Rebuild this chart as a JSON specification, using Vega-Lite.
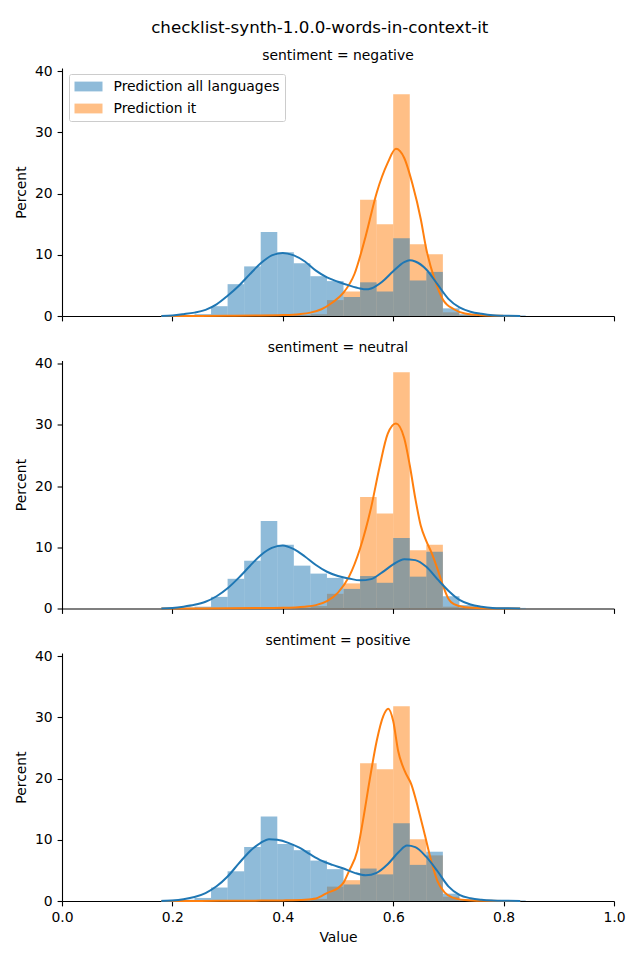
{
  "$schema": "https://vega.github.io/schema/vega-lite/v6.json",
  "padding": {"left": 14, "top": 19, "right": 10, "bottom": 10},
  "title": {"text": "checklist-synth-1.0.0-words-in-context-it", "fontSize": 16.7, "fontWeight": "normal", "font": "DejaVu Sans", "color": "black", "anchor": "middle", "offset": 12},
  "datasets": {
    "hist": [
      {"sentiment": "negative", "series": "Prediction it", "start": 0.36, "end": 0.39, "percent": 0.05},
      {"sentiment": "negative", "series": "Prediction it", "start": 0.39, "end": 0.42, "percent": 0.1},
      {"sentiment": "negative", "series": "Prediction it", "start": 0.42, "end": 0.45, "percent": 0.15},
      {"sentiment": "negative", "series": "Prediction it", "start": 0.45, "end": 0.48, "percent": 0.3},
      {"sentiment": "negative", "series": "Prediction it", "start": 0.48, "end": 0.51, "percent": 2.6},
      {"sentiment": "negative", "series": "Prediction it", "start": 0.51, "end": 0.54, "percent": 4.0},
      {"sentiment": "negative", "series": "Prediction it", "start": 0.54, "end": 0.57, "percent": 19.0},
      {"sentiment": "negative", "series": "Prediction it", "start": 0.57, "end": 0.60, "percent": 15.0},
      {"sentiment": "negative", "series": "Prediction it", "start": 0.60, "end": 0.63, "percent": 36.2},
      {"sentiment": "negative", "series": "Prediction it", "start": 0.63, "end": 0.66, "percent": 11.7},
      {"sentiment": "negative", "series": "Prediction it", "start": 0.66, "end": 0.69, "percent": 10.1},
      {"sentiment": "negative", "series": "Prediction it", "start": 0.69, "end": 0.72, "percent": 0.6},
      {"sentiment": "negative", "series": "Prediction it", "start": 0.72, "end": 0.75, "percent": 0.15},
      {"sentiment": "neutral", "series": "Prediction it", "start": 0.39, "end": 0.42, "percent": 0.1},
      {"sentiment": "neutral", "series": "Prediction it", "start": 0.42, "end": 0.45, "percent": 0.15},
      {"sentiment": "neutral", "series": "Prediction it", "start": 0.45, "end": 0.48, "percent": 0.4},
      {"sentiment": "neutral", "series": "Prediction it", "start": 0.48, "end": 0.51, "percent": 2.4},
      {"sentiment": "neutral", "series": "Prediction it", "start": 0.51, "end": 0.54, "percent": 4.1},
      {"sentiment": "neutral", "series": "Prediction it", "start": 0.54, "end": 0.57, "percent": 18.2},
      {"sentiment": "neutral", "series": "Prediction it", "start": 0.57, "end": 0.60, "percent": 15.5},
      {"sentiment": "neutral", "series": "Prediction it", "start": 0.60, "end": 0.63, "percent": 38.6},
      {"sentiment": "neutral", "series": "Prediction it", "start": 0.63, "end": 0.66, "percent": 9.5},
      {"sentiment": "neutral", "series": "Prediction it", "start": 0.66, "end": 0.69, "percent": 10.4},
      {"sentiment": "neutral", "series": "Prediction it", "start": 0.69, "end": 0.72, "percent": 0.3},
      {"sentiment": "neutral", "series": "Prediction it", "start": 0.72, "end": 0.75, "percent": 0.1},
      {"sentiment": "positive", "series": "Prediction it", "start": 0.39, "end": 0.42, "percent": 0.1},
      {"sentiment": "positive", "series": "Prediction it", "start": 0.42, "end": 0.45, "percent": 0.15},
      {"sentiment": "positive", "series": "Prediction it", "start": 0.45, "end": 0.48, "percent": 0.35},
      {"sentiment": "positive", "series": "Prediction it", "start": 0.48, "end": 0.51, "percent": 2.35},
      {"sentiment": "positive", "series": "Prediction it", "start": 0.51, "end": 0.54, "percent": 3.4},
      {"sentiment": "positive", "series": "Prediction it", "start": 0.54, "end": 0.57, "percent": 22.5},
      {"sentiment": "positive", "series": "Prediction it", "start": 0.57, "end": 0.60, "percent": 21.5},
      {"sentiment": "positive", "series": "Prediction it", "start": 0.60, "end": 0.63, "percent": 31.8},
      {"sentiment": "positive", "series": "Prediction it", "start": 0.63, "end": 0.66, "percent": 10.1},
      {"sentiment": "positive", "series": "Prediction it", "start": 0.66, "end": 0.69, "percent": 7.45},
      {"sentiment": "positive", "series": "Prediction it", "start": 0.69, "end": 0.72, "percent": 0.7},
      {"sentiment": "positive", "series": "Prediction it", "start": 0.72, "end": 0.75, "percent": 0.15},

      {"sentiment": "negative", "series": "Prediction all languages", "start": 0.18, "end": 0.21, "percent": 0.15},
      {"sentiment": "negative", "series": "Prediction all languages", "start": 0.21, "end": 0.24, "percent": 0.15},
      {"sentiment": "negative", "series": "Prediction all languages", "start": 0.24, "end": 0.27, "percent": 0.3},
      {"sentiment": "negative", "series": "Prediction all languages", "start": 0.27, "end": 0.30, "percent": 1.6},
      {"sentiment": "negative", "series": "Prediction all languages", "start": 0.30, "end": 0.33, "percent": 5.2},
      {"sentiment": "negative", "series": "Prediction all languages", "start": 0.33, "end": 0.36, "percent": 8.1},
      {"sentiment": "negative", "series": "Prediction all languages", "start": 0.36, "end": 0.39, "percent": 13.7},
      {"sentiment": "negative", "series": "Prediction all languages", "start": 0.39, "end": 0.42, "percent": 10.4},
      {"sentiment": "negative", "series": "Prediction all languages", "start": 0.42, "end": 0.45, "percent": 8.6},
      {"sentiment": "negative", "series": "Prediction all languages", "start": 0.45, "end": 0.48, "percent": 6.5},
      {"sentiment": "negative", "series": "Prediction all languages", "start": 0.48, "end": 0.51, "percent": 5.7},
      {"sentiment": "negative", "series": "Prediction all languages", "start": 0.51, "end": 0.54, "percent": 3.1},
      {"sentiment": "negative", "series": "Prediction all languages", "start": 0.54, "end": 0.57, "percent": 5.5},
      {"sentiment": "negative", "series": "Prediction all languages", "start": 0.57, "end": 0.60, "percent": 4.0},
      {"sentiment": "negative", "series": "Prediction all languages", "start": 0.60, "end": 0.63, "percent": 12.7},
      {"sentiment": "negative", "series": "Prediction all languages", "start": 0.63, "end": 0.66, "percent": 5.8},
      {"sentiment": "negative", "series": "Prediction all languages", "start": 0.66, "end": 0.69, "percent": 7.2},
      {"sentiment": "negative", "series": "Prediction all languages", "start": 0.69, "end": 0.72, "percent": 1.25},
      {"sentiment": "negative", "series": "Prediction all languages", "start": 0.72, "end": 0.75, "percent": 0.3},
      {"sentiment": "negative", "series": "Prediction all languages", "start": 0.75, "end": 0.78, "percent": 0.2},
      {"sentiment": "negative", "series": "Prediction all languages", "start": 0.78, "end": 0.81, "percent": 0.15},
      {"sentiment": "negative", "series": "Prediction all languages", "start": 0.81, "end": 0.84, "percent": 0.1},
      {"sentiment": "neutral", "series": "Prediction all languages", "start": 0.18, "end": 0.21, "percent": 0.1},
      {"sentiment": "neutral", "series": "Prediction all languages", "start": 0.21, "end": 0.24, "percent": 0.15},
      {"sentiment": "neutral", "series": "Prediction all languages", "start": 0.24, "end": 0.27, "percent": 0.3},
      {"sentiment": "neutral", "series": "Prediction all languages", "start": 0.27, "end": 0.30, "percent": 1.9},
      {"sentiment": "neutral", "series": "Prediction all languages", "start": 0.30, "end": 0.33, "percent": 4.85},
      {"sentiment": "neutral", "series": "Prediction all languages", "start": 0.33, "end": 0.36, "percent": 7.8},
      {"sentiment": "neutral", "series": "Prediction all languages", "start": 0.36, "end": 0.39, "percent": 14.3},
      {"sentiment": "neutral", "series": "Prediction all languages", "start": 0.39, "end": 0.42, "percent": 10.4},
      {"sentiment": "neutral", "series": "Prediction all languages", "start": 0.42, "end": 0.45, "percent": 7.0},
      {"sentiment": "neutral", "series": "Prediction all languages", "start": 0.45, "end": 0.48, "percent": 5.7},
      {"sentiment": "neutral", "series": "Prediction all languages", "start": 0.48, "end": 0.51, "percent": 5.0},
      {"sentiment": "neutral", "series": "Prediction all languages", "start": 0.51, "end": 0.54, "percent": 3.2},
      {"sentiment": "neutral", "series": "Prediction all languages", "start": 0.54, "end": 0.57, "percent": 5.3},
      {"sentiment": "neutral", "series": "Prediction all languages", "start": 0.57, "end": 0.60, "percent": 4.2},
      {"sentiment": "neutral", "series": "Prediction all languages", "start": 0.60, "end": 0.63, "percent": 11.5},
      {"sentiment": "neutral", "series": "Prediction all languages", "start": 0.63, "end": 0.66, "percent": 5.2},
      {"sentiment": "neutral", "series": "Prediction all languages", "start": 0.66, "end": 0.69, "percent": 9.25},
      {"sentiment": "neutral", "series": "Prediction all languages", "start": 0.69, "end": 0.72, "percent": 2.0},
      {"sentiment": "neutral", "series": "Prediction all languages", "start": 0.72, "end": 0.75, "percent": 0.55},
      {"sentiment": "neutral", "series": "Prediction all languages", "start": 0.75, "end": 0.78, "percent": 0.2},
      {"sentiment": "neutral", "series": "Prediction all languages", "start": 0.78, "end": 0.81, "percent": 0.1},
      {"sentiment": "neutral", "series": "Prediction all languages", "start": 0.81, "end": 0.84, "percent": 0.1},
      {"sentiment": "positive", "series": "Prediction all languages", "start": 0.18, "end": 0.21, "percent": 0.2},
      {"sentiment": "positive", "series": "Prediction all languages", "start": 0.21, "end": 0.24, "percent": 0.2},
      {"sentiment": "positive", "series": "Prediction all languages", "start": 0.24, "end": 0.27, "percent": 0.5},
      {"sentiment": "positive", "series": "Prediction all languages", "start": 0.27, "end": 0.30, "percent": 2.2},
      {"sentiment": "positive", "series": "Prediction all languages", "start": 0.30, "end": 0.33, "percent": 4.85},
      {"sentiment": "positive", "series": "Prediction all languages", "start": 0.33, "end": 0.36, "percent": 8.8},
      {"sentiment": "positive", "series": "Prediction all languages", "start": 0.36, "end": 0.39, "percent": 13.8},
      {"sentiment": "positive", "series": "Prediction all languages", "start": 0.39, "end": 0.42, "percent": 9.3},
      {"sentiment": "positive", "series": "Prediction all languages", "start": 0.42, "end": 0.45, "percent": 8.3},
      {"sentiment": "positive", "series": "Prediction all languages", "start": 0.45, "end": 0.48, "percent": 6.6},
      {"sentiment": "positive", "series": "Prediction all languages", "start": 0.48, "end": 0.51, "percent": 5.2},
      {"sentiment": "positive", "series": "Prediction all languages", "start": 0.51, "end": 0.54, "percent": 2.7},
      {"sentiment": "positive", "series": "Prediction all languages", "start": 0.54, "end": 0.57, "percent": 5.3},
      {"sentiment": "positive", "series": "Prediction all languages", "start": 0.57, "end": 0.60, "percent": 4.35},
      {"sentiment": "positive", "series": "Prediction all languages", "start": 0.60, "end": 0.63, "percent": 12.7},
      {"sentiment": "positive", "series": "Prediction all languages", "start": 0.63, "end": 0.66, "percent": 5.9},
      {"sentiment": "positive", "series": "Prediction all languages", "start": 0.66, "end": 0.69, "percent": 8.05},
      {"sentiment": "positive", "series": "Prediction all languages", "start": 0.69, "end": 0.72, "percent": 1.2},
      {"sentiment": "positive", "series": "Prediction all languages", "start": 0.72, "end": 0.75, "percent": 0.3},
      {"sentiment": "positive", "series": "Prediction all languages", "start": 0.75, "end": 0.78, "percent": 0.2},
      {"sentiment": "positive", "series": "Prediction all languages", "start": 0.78, "end": 0.81, "percent": 0.15},
      {"sentiment": "positive", "series": "Prediction all languages", "start": 0.81, "end": 0.84, "percent": 0.1}
    ],
    "kde": [
      {"sentiment": "negative", "series": "Prediction all languages", "value": 0.18, "density": 0.02},
      {"sentiment": "negative", "series": "Prediction all languages", "value": 0.20, "density": 0.1},
      {"sentiment": "negative", "series": "Prediction all languages", "value": 0.22, "density": 0.3},
      {"sentiment": "negative", "series": "Prediction all languages", "value": 0.24, "density": 0.55},
      {"sentiment": "negative", "series": "Prediction all languages", "value": 0.26, "density": 1.0},
      {"sentiment": "negative", "series": "Prediction all languages", "value": 0.28, "density": 1.9},
      {"sentiment": "negative", "series": "Prediction all languages", "value": 0.30, "density": 3.3},
      {"sentiment": "negative", "series": "Prediction all languages", "value": 0.32, "density": 4.9},
      {"sentiment": "negative", "series": "Prediction all languages", "value": 0.34, "density": 6.8},
      {"sentiment": "negative", "series": "Prediction all languages", "value": 0.36, "density": 8.6},
      {"sentiment": "negative", "series": "Prediction all languages", "value": 0.38, "density": 9.9},
      {"sentiment": "negative", "series": "Prediction all languages", "value": 0.40, "density": 10.3},
      {"sentiment": "negative", "series": "Prediction all languages", "value": 0.42, "density": 9.9},
      {"sentiment": "negative", "series": "Prediction all languages", "value": 0.44, "density": 8.9},
      {"sentiment": "negative", "series": "Prediction all languages", "value": 0.46, "density": 7.4},
      {"sentiment": "negative", "series": "Prediction all languages", "value": 0.48, "density": 6.3},
      {"sentiment": "negative", "series": "Prediction all languages", "value": 0.50, "density": 5.6},
      {"sentiment": "negative", "series": "Prediction all languages", "value": 0.52, "density": 5.0},
      {"sentiment": "negative", "series": "Prediction all languages", "value": 0.54, "density": 4.5},
      {"sentiment": "negative", "series": "Prediction all languages", "value": 0.55, "density": 4.35},
      {"sentiment": "negative", "series": "Prediction all languages", "value": 0.56, "density": 4.5},
      {"sentiment": "negative", "series": "Prediction all languages", "value": 0.58, "density": 5.6},
      {"sentiment": "negative", "series": "Prediction all languages", "value": 0.60, "density": 7.3},
      {"sentiment": "negative", "series": "Prediction all languages", "value": 0.62, "density": 8.8},
      {"sentiment": "negative", "series": "Prediction all languages", "value": 0.63, "density": 9.1},
      {"sentiment": "negative", "series": "Prediction all languages", "value": 0.64, "density": 8.9},
      {"sentiment": "negative", "series": "Prediction all languages", "value": 0.66, "density": 7.6},
      {"sentiment": "negative", "series": "Prediction all languages", "value": 0.68, "density": 5.2},
      {"sentiment": "negative", "series": "Prediction all languages", "value": 0.70, "density": 2.8},
      {"sentiment": "negative", "series": "Prediction all languages", "value": 0.72, "density": 1.4},
      {"sentiment": "negative", "series": "Prediction all languages", "value": 0.74, "density": 0.7},
      {"sentiment": "negative", "series": "Prediction all languages", "value": 0.76, "density": 0.35},
      {"sentiment": "negative", "series": "Prediction all languages", "value": 0.78, "density": 0.12},
      {"sentiment": "negative", "series": "Prediction all languages", "value": 0.80, "density": 0.05},
      {"sentiment": "negative", "series": "Prediction all languages", "value": 0.83, "density": 0.01},
      {"sentiment": "negative", "series": "Prediction it", "value": 0.18, "density": 0.0},
      {"sentiment": "negative", "series": "Prediction it", "value": 0.25, "density": 0.02},
      {"sentiment": "negative", "series": "Prediction it", "value": 0.30, "density": 0.04},
      {"sentiment": "negative", "series": "Prediction it", "value": 0.35, "density": 0.07},
      {"sentiment": "negative", "series": "Prediction it", "value": 0.40, "density": 0.15},
      {"sentiment": "negative", "series": "Prediction it", "value": 0.43, "density": 0.3},
      {"sentiment": "negative", "series": "Prediction it", "value": 0.45, "density": 0.55},
      {"sentiment": "negative", "series": "Prediction it", "value": 0.47, "density": 1.1},
      {"sentiment": "negative", "series": "Prediction it", "value": 0.49, "density": 2.2},
      {"sentiment": "negative", "series": "Prediction it", "value": 0.51, "density": 3.8},
      {"sentiment": "negative", "series": "Prediction it", "value": 0.53, "density": 6.9},
      {"sentiment": "negative", "series": "Prediction it", "value": 0.55, "density": 13.0},
      {"sentiment": "negative", "series": "Prediction it", "value": 0.57, "density": 20.1},
      {"sentiment": "negative", "series": "Prediction it", "value": 0.59, "density": 25.0},
      {"sentiment": "negative", "series": "Prediction it", "value": 0.605, "density": 27.3},
      {"sentiment": "negative", "series": "Prediction it", "value": 0.62, "density": 25.8},
      {"sentiment": "negative", "series": "Prediction it", "value": 0.635, "density": 21.5},
      {"sentiment": "negative", "series": "Prediction it", "value": 0.65, "density": 15.8},
      {"sentiment": "negative", "series": "Prediction it", "value": 0.66, "density": 10.9},
      {"sentiment": "negative", "series": "Prediction it", "value": 0.675, "density": 6.0},
      {"sentiment": "negative", "series": "Prediction it", "value": 0.69, "density": 2.7},
      {"sentiment": "negative", "series": "Prediction it", "value": 0.71, "density": 1.1},
      {"sentiment": "negative", "series": "Prediction it", "value": 0.73, "density": 0.4},
      {"sentiment": "negative", "series": "Prediction it", "value": 0.76, "density": 0.12},
      {"sentiment": "negative", "series": "Prediction it", "value": 0.80, "density": 0.02},
      {"sentiment": "negative", "series": "Prediction it", "value": 0.83, "density": 0.0},
      {"sentiment": "neutral", "series": "Prediction all languages", "value": 0.18, "density": 0.02},
      {"sentiment": "neutral", "series": "Prediction all languages", "value": 0.20, "density": 0.1},
      {"sentiment": "neutral", "series": "Prediction all languages", "value": 0.22, "density": 0.3},
      {"sentiment": "neutral", "series": "Prediction all languages", "value": 0.24, "density": 0.6},
      {"sentiment": "neutral", "series": "Prediction all languages", "value": 0.26, "density": 1.1},
      {"sentiment": "neutral", "series": "Prediction all languages", "value": 0.28, "density": 2.0},
      {"sentiment": "neutral", "series": "Prediction all languages", "value": 0.30, "density": 3.3},
      {"sentiment": "neutral", "series": "Prediction all languages", "value": 0.32, "density": 5.0},
      {"sentiment": "neutral", "series": "Prediction all languages", "value": 0.34, "density": 6.9},
      {"sentiment": "neutral", "series": "Prediction all languages", "value": 0.36, "density": 8.7},
      {"sentiment": "neutral", "series": "Prediction all languages", "value": 0.38, "density": 9.9},
      {"sentiment": "neutral", "series": "Prediction all languages", "value": 0.40, "density": 10.3},
      {"sentiment": "neutral", "series": "Prediction all languages", "value": 0.42, "density": 9.7},
      {"sentiment": "neutral", "series": "Prediction all languages", "value": 0.44, "density": 8.5},
      {"sentiment": "neutral", "series": "Prediction all languages", "value": 0.46, "density": 7.1},
      {"sentiment": "neutral", "series": "Prediction all languages", "value": 0.48, "density": 6.0},
      {"sentiment": "neutral", "series": "Prediction all languages", "value": 0.50, "density": 5.3},
      {"sentiment": "neutral", "series": "Prediction all languages", "value": 0.52, "density": 4.9},
      {"sentiment": "neutral", "series": "Prediction all languages", "value": 0.54, "density": 4.6},
      {"sentiment": "neutral", "series": "Prediction all languages", "value": 0.56, "density": 4.8},
      {"sentiment": "neutral", "series": "Prediction all languages", "value": 0.58, "density": 5.9},
      {"sentiment": "neutral", "series": "Prediction all languages", "value": 0.60, "density": 7.2},
      {"sentiment": "neutral", "series": "Prediction all languages", "value": 0.62, "density": 8.05},
      {"sentiment": "neutral", "series": "Prediction all languages", "value": 0.64, "density": 7.9},
      {"sentiment": "neutral", "series": "Prediction all languages", "value": 0.66, "density": 6.8},
      {"sentiment": "neutral", "series": "Prediction all languages", "value": 0.68, "density": 4.8},
      {"sentiment": "neutral", "series": "Prediction all languages", "value": 0.70, "density": 2.9},
      {"sentiment": "neutral", "series": "Prediction all languages", "value": 0.72, "density": 1.4},
      {"sentiment": "neutral", "series": "Prediction all languages", "value": 0.74, "density": 0.65},
      {"sentiment": "neutral", "series": "Prediction all languages", "value": 0.76, "density": 0.3},
      {"sentiment": "neutral", "series": "Prediction all languages", "value": 0.78, "density": 0.1},
      {"sentiment": "neutral", "series": "Prediction all languages", "value": 0.80, "density": 0.04},
      {"sentiment": "neutral", "series": "Prediction all languages", "value": 0.83, "density": 0.01},
      {"sentiment": "neutral", "series": "Prediction it", "value": 0.18, "density": 0.0},
      {"sentiment": "neutral", "series": "Prediction it", "value": 0.25, "density": 0.02},
      {"sentiment": "neutral", "series": "Prediction it", "value": 0.30, "density": 0.04},
      {"sentiment": "neutral", "series": "Prediction it", "value": 0.35, "density": 0.07},
      {"sentiment": "neutral", "series": "Prediction it", "value": 0.40, "density": 0.12},
      {"sentiment": "neutral", "series": "Prediction it", "value": 0.44, "density": 0.3},
      {"sentiment": "neutral", "series": "Prediction it", "value": 0.46, "density": 0.55},
      {"sentiment": "neutral", "series": "Prediction it", "value": 0.48, "density": 1.2},
      {"sentiment": "neutral", "series": "Prediction it", "value": 0.50, "density": 2.6},
      {"sentiment": "neutral", "series": "Prediction it", "value": 0.52, "density": 5.2},
      {"sentiment": "neutral", "series": "Prediction it", "value": 0.54, "density": 9.8},
      {"sentiment": "neutral", "series": "Prediction it", "value": 0.56, "density": 16.5},
      {"sentiment": "neutral", "series": "Prediction it", "value": 0.575, "density": 23.0},
      {"sentiment": "neutral", "series": "Prediction it", "value": 0.59, "density": 28.5},
      {"sentiment": "neutral", "series": "Prediction it", "value": 0.605, "density": 30.2},
      {"sentiment": "neutral", "series": "Prediction it", "value": 0.62, "density": 27.8},
      {"sentiment": "neutral", "series": "Prediction it", "value": 0.63, "density": 23.4},
      {"sentiment": "neutral", "series": "Prediction it", "value": 0.64, "density": 18.0},
      {"sentiment": "neutral", "series": "Prediction it", "value": 0.65, "density": 13.5},
      {"sentiment": "neutral", "series": "Prediction it", "value": 0.66, "density": 11.0},
      {"sentiment": "neutral", "series": "Prediction it", "value": 0.67, "density": 9.0},
      {"sentiment": "neutral", "series": "Prediction it", "value": 0.68, "density": 6.5},
      {"sentiment": "neutral", "series": "Prediction it", "value": 0.69, "density": 3.8},
      {"sentiment": "neutral", "series": "Prediction it", "value": 0.70, "density": 1.6},
      {"sentiment": "neutral", "series": "Prediction it", "value": 0.71, "density": 0.7},
      {"sentiment": "neutral", "series": "Prediction it", "value": 0.73, "density": 0.2},
      {"sentiment": "neutral", "series": "Prediction it", "value": 0.76, "density": 0.05},
      {"sentiment": "neutral", "series": "Prediction it", "value": 0.80, "density": 0.01},
      {"sentiment": "neutral", "series": "Prediction it", "value": 0.83, "density": 0.0},
      {"sentiment": "positive", "series": "Prediction all languages", "value": 0.18, "density": 0.02},
      {"sentiment": "positive", "series": "Prediction all languages", "value": 0.20, "density": 0.1},
      {"sentiment": "positive", "series": "Prediction all languages", "value": 0.22, "density": 0.3},
      {"sentiment": "positive", "series": "Prediction all languages", "value": 0.24, "density": 0.65},
      {"sentiment": "positive", "series": "Prediction all languages", "value": 0.26, "density": 1.3},
      {"sentiment": "positive", "series": "Prediction all languages", "value": 0.28, "density": 2.4},
      {"sentiment": "positive", "series": "Prediction all languages", "value": 0.30, "density": 4.0},
      {"sentiment": "positive", "series": "Prediction all languages", "value": 0.32, "density": 6.1},
      {"sentiment": "positive", "series": "Prediction all languages", "value": 0.34, "density": 8.1},
      {"sentiment": "positive", "series": "Prediction all languages", "value": 0.36, "density": 9.5},
      {"sentiment": "positive", "series": "Prediction all languages", "value": 0.375, "density": 10.1},
      {"sentiment": "positive", "series": "Prediction all languages", "value": 0.39, "density": 10.0},
      {"sentiment": "positive", "series": "Prediction all languages", "value": 0.41, "density": 9.5},
      {"sentiment": "positive", "series": "Prediction all languages", "value": 0.43, "density": 8.7},
      {"sentiment": "positive", "series": "Prediction all languages", "value": 0.45, "density": 7.6},
      {"sentiment": "positive", "series": "Prediction all languages", "value": 0.47, "density": 6.6},
      {"sentiment": "positive", "series": "Prediction all languages", "value": 0.49, "density": 5.9},
      {"sentiment": "positive", "series": "Prediction all languages", "value": 0.51, "density": 5.3},
      {"sentiment": "positive", "series": "Prediction all languages", "value": 0.53, "density": 4.6},
      {"sentiment": "positive", "series": "Prediction all languages", "value": 0.55, "density": 4.2},
      {"sentiment": "positive", "series": "Prediction all languages", "value": 0.57, "density": 4.6},
      {"sentiment": "positive", "series": "Prediction all languages", "value": 0.59, "density": 6.0},
      {"sentiment": "positive", "series": "Prediction all languages", "value": 0.61, "density": 8.0},
      {"sentiment": "positive", "series": "Prediction all languages", "value": 0.625, "density": 9.05},
      {"sentiment": "positive", "series": "Prediction all languages", "value": 0.64, "density": 8.8},
      {"sentiment": "positive", "series": "Prediction all languages", "value": 0.66, "density": 7.2},
      {"sentiment": "positive", "series": "Prediction all languages", "value": 0.68, "density": 4.9},
      {"sentiment": "positive", "series": "Prediction all languages", "value": 0.70, "density": 2.4},
      {"sentiment": "positive", "series": "Prediction all languages", "value": 0.72, "density": 1.0},
      {"sentiment": "positive", "series": "Prediction all languages", "value": 0.74, "density": 0.45},
      {"sentiment": "positive", "series": "Prediction all languages", "value": 0.76, "density": 0.2},
      {"sentiment": "positive", "series": "Prediction all languages", "value": 0.78, "density": 0.08},
      {"sentiment": "positive", "series": "Prediction all languages", "value": 0.80, "density": 0.03},
      {"sentiment": "positive", "series": "Prediction all languages", "value": 0.83, "density": 0.01},
      {"sentiment": "positive", "series": "Prediction it", "value": 0.18, "density": 0.0},
      {"sentiment": "positive", "series": "Prediction it", "value": 0.25, "density": 0.02},
      {"sentiment": "positive", "series": "Prediction it", "value": 0.30, "density": 0.04},
      {"sentiment": "positive", "series": "Prediction it", "value": 0.35, "density": 0.06},
      {"sentiment": "positive", "series": "Prediction it", "value": 0.40, "density": 0.1},
      {"sentiment": "positive", "series": "Prediction it", "value": 0.44, "density": 0.2},
      {"sentiment": "positive", "series": "Prediction it", "value": 0.46, "density": 0.4},
      {"sentiment": "positive", "series": "Prediction it", "value": 0.47, "density": 0.8},
      {"sentiment": "positive", "series": "Prediction it", "value": 0.48, "density": 1.3},
      {"sentiment": "positive", "series": "Prediction it", "value": 0.50, "density": 2.1},
      {"sentiment": "positive", "series": "Prediction it", "value": 0.51, "density": 3.0},
      {"sentiment": "positive", "series": "Prediction it", "value": 0.52, "density": 4.9},
      {"sentiment": "positive", "series": "Prediction it", "value": 0.535, "density": 8.2},
      {"sentiment": "positive", "series": "Prediction it", "value": 0.545, "density": 13.0},
      {"sentiment": "positive", "series": "Prediction it", "value": 0.558, "density": 20.1},
      {"sentiment": "positive", "series": "Prediction it", "value": 0.57, "density": 26.1},
      {"sentiment": "positive", "series": "Prediction it", "value": 0.582, "density": 30.2},
      {"sentiment": "positive", "series": "Prediction it", "value": 0.591, "density": 31.4},
      {"sentiment": "positive", "series": "Prediction it", "value": 0.60, "density": 29.4},
      {"sentiment": "positive", "series": "Prediction it", "value": 0.609, "density": 24.5},
      {"sentiment": "positive", "series": "Prediction it", "value": 0.621, "density": 21.2},
      {"sentiment": "positive", "series": "Prediction it", "value": 0.633, "density": 19.0},
      {"sentiment": "positive", "series": "Prediction it", "value": 0.645, "density": 15.2},
      {"sentiment": "positive", "series": "Prediction it", "value": 0.657, "density": 10.9},
      {"sentiment": "positive", "series": "Prediction it", "value": 0.669, "density": 6.5},
      {"sentiment": "positive", "series": "Prediction it", "value": 0.68, "density": 3.3},
      {"sentiment": "positive", "series": "Prediction it", "value": 0.693, "density": 1.4},
      {"sentiment": "positive", "series": "Prediction it", "value": 0.708, "density": 0.55},
      {"sentiment": "positive", "series": "Prediction it", "value": 0.73, "density": 0.15},
      {"sentiment": "positive", "series": "Prediction it", "value": 0.76, "density": 0.03},
      {"sentiment": "positive", "series": "Prediction it", "value": 0.80, "density": 0.0},
      {"sentiment": "positive", "series": "Prediction it", "value": 0.83, "density": 0.0}
    ]
  },
  "spacing": 44.5,
  "bounds": "flush",
  "vconcat": [
    {
      "width": 552, "height": 248,
      "title": {"text": "sentiment = negative", "offset": 1.6},
      "layer": [
        {
          "data": {"name": "hist"},
          "transform": [{"filter": "datum.sentiment === 'negative'"}],
          "mark": {"type": "bar", "opacity": 0.5, "strokeWidth": 0, "orient": "vertical"},
          "encoding": {
            "x": {"field": "start", "type": "quantitative", "scale": {"domain": [0, 1], "nice": false, "padding": 0}, "axis": {"values": [0, 0.2, 0.4, 0.6, 0.8, 1.0], "labels": false, "title": null}},
            "x2": {"field": "end"},
            "y": {"field": "percent", "type": "quantitative", "stack": null, "scale": {"domain": [0, 40.5], "nice": false, "padding": 0}, "axis": {"values": [0, 10, 20, 30, 40], "title": "Percent"}},
            "y2": {"datum": 0},
            "fill": {"field": "series", "type": "nominal", "scale": {"domain": ["Prediction all languages", "Prediction it"], "range": ["#1f77b4", "#ff7f0e"]}, "legend": {"title": null}}
          }
        },
        {
          "data": {"name": "kde"},
          "transform": [{"filter": "datum.sentiment === 'negative' && datum.series === 'Prediction it'"}],
          "mark": {"type": "line", "color": "#ff7f0e", "strokeWidth": 2, "interpolate": "monotone"},
          "encoding": {"x": {"field": "value", "type": "quantitative"}, "y": {"field": "density", "type": "quantitative"}}
        },
        {
          "data": {"name": "kde"},
          "transform": [{"filter": "datum.sentiment === 'negative' && datum.series === 'Prediction all languages'"}],
          "mark": {"type": "line", "color": "#1f77b4", "strokeWidth": 2, "interpolate": "monotone"},
          "encoding": {"x": {"field": "value", "type": "quantitative"}, "y": {"field": "density", "type": "quantitative"}}
        }
      ]
    },
    {
      "width": 552, "height": 248,
      "title": {"text": "sentiment = neutral", "offset": 1.6},
      "layer": [
        {
          "data": {"name": "hist"},
          "transform": [{"filter": "datum.sentiment === 'neutral'"}],
          "mark": {"type": "bar", "opacity": 0.5, "strokeWidth": 0, "orient": "vertical"},
          "encoding": {
            "x": {"field": "start", "type": "quantitative", "scale": {"domain": [0, 1], "nice": false, "padding": 0}, "axis": {"values": [0, 0.2, 0.4, 0.6, 0.8, 1.0], "labels": false, "title": null}},
            "x2": {"field": "end"},
            "y": {"field": "percent", "type": "quantitative", "stack": null, "scale": {"domain": [0, 40.5], "nice": false, "padding": 0}, "axis": {"values": [0, 10, 20, 30, 40], "title": "Percent"}},
            "y2": {"datum": 0},
            "fill": {"field": "series", "type": "nominal", "scale": {"domain": ["Prediction all languages", "Prediction it"], "range": ["#1f77b4", "#ff7f0e"]}, "legend": null}
          }
        },
        {
          "data": {"name": "kde"},
          "transform": [{"filter": "datum.sentiment === 'neutral' && datum.series === 'Prediction it'"}],
          "mark": {"type": "line", "color": "#ff7f0e", "strokeWidth": 2, "interpolate": "monotone"},
          "encoding": {"x": {"field": "value", "type": "quantitative"}, "y": {"field": "density", "type": "quantitative"}}
        },
        {
          "data": {"name": "kde"},
          "transform": [{"filter": "datum.sentiment === 'neutral' && datum.series === 'Prediction all languages'"}],
          "mark": {"type": "line", "color": "#1f77b4", "strokeWidth": 2, "interpolate": "monotone"},
          "encoding": {"x": {"field": "value", "type": "quantitative"}, "y": {"field": "density", "type": "quantitative"}}
        }
      ]
    },
    {
      "width": 552, "height": 248,
      "title": {"text": "sentiment = positive", "offset": 1.6},
      "layer": [
        {
          "data": {"name": "hist"},
          "transform": [{"filter": "datum.sentiment === 'positive'"}],
          "mark": {"type": "bar", "opacity": 0.5, "strokeWidth": 0, "orient": "vertical"},
          "encoding": {
            "x": {"field": "start", "type": "quantitative", "scale": {"domain": [0, 1], "nice": false, "padding": 0}, "axis": {"values": [0, 0.2, 0.4, 0.6, 0.8, 1.0], "format": ".1f", "title": "Value"}},
            "x2": {"field": "end"},
            "y": {"field": "percent", "type": "quantitative", "stack": null, "scale": {"domain": [0, 40.5], "nice": false, "padding": 0}, "axis": {"values": [0, 10, 20, 30, 40], "title": "Percent"}},
            "y2": {"datum": 0},
            "fill": {"field": "series", "type": "nominal", "scale": {"domain": ["Prediction all languages", "Prediction it"], "range": ["#1f77b4", "#ff7f0e"]}, "legend": null}
          }
        },
        {
          "data": {"name": "kde"},
          "transform": [{"filter": "datum.sentiment === 'positive' && datum.series === 'Prediction it'"}],
          "mark": {"type": "line", "color": "#ff7f0e", "strokeWidth": 2, "interpolate": "monotone"},
          "encoding": {"x": {"field": "value", "type": "quantitative"}, "y": {"field": "density", "type": "quantitative"}}
        },
        {
          "data": {"name": "kde"},
          "transform": [{"filter": "datum.sentiment === 'positive' && datum.series === 'Prediction all languages'"}],
          "mark": {"type": "line", "color": "#1f77b4", "strokeWidth": 2, "interpolate": "monotone"},
          "encoding": {"x": {"field": "value", "type": "quantitative"}, "y": {"field": "density", "type": "quantitative"}}
        }
      ]
    }
  ],
  "config": {
    "font": "DejaVu Sans",
    "view": {"stroke": null},
    "axis": {
      "grid": false, "domainColor": "black", "domainWidth": 1.1, "tickColor": "black", "tickWidth": 1.1, "tickSize": 4.9,
      "labelPadding": 4.9, "labelFontSize": 13.9, "labelColor": "black", "labelFont": "DejaVu Sans", "labelFlush": false,
      "titleFontSize": 13.9, "titleFontWeight": "normal", "titleColor": "black", "titleFont": "DejaVu Sans", "titlePadding": 6
    },
    "title": {"fontSize": 13.9, "fontWeight": "normal", "font": "DejaVu Sans", "color": "black"},
    "legend": {
      "orient": "none", "legendX": 7, "legendY": 6,
      "symbolType": "M-2,-0.7H2V0.7H-2Z", "symbolSize": 196, "symbolOffset": 7, "symbolOpacity": 0.5, "symbolStrokeWidth": 0,
      "labelFontSize": 13.9, "labelFont": "DejaVu Sans", "labelColor": "black", "labelOffset": 18, "labelLimit": 0,
      "padding": 5.5, "rowPadding": 8,
      "fillColor": "rgba(255,255,255,0.8)", "strokeColor": "#cccccc", "cornerRadius": 2
    }
  }
}
